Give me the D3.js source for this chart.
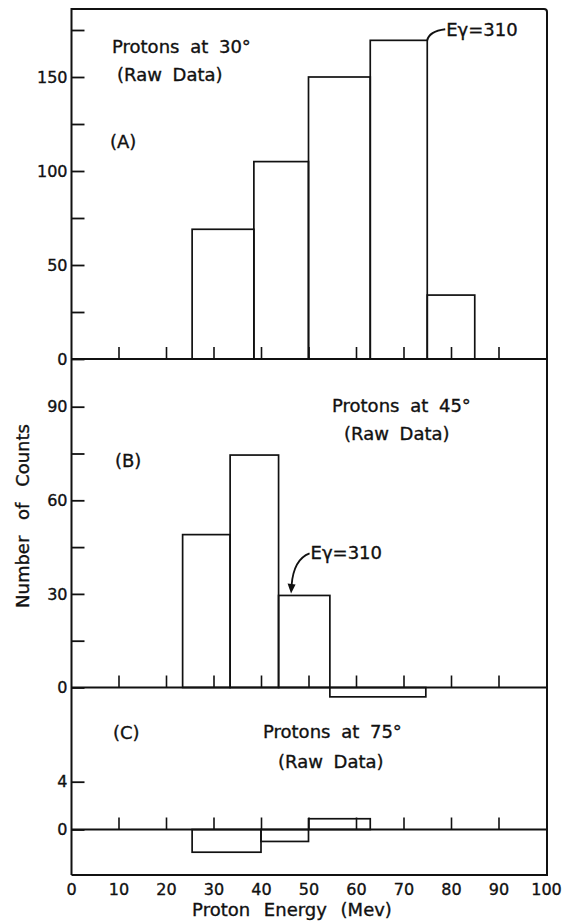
<!DOCTYPE html>
<html>
<head>
<meta charset="utf-8">
<script src="https://cdn.jsdelivr.net/npm/d3@7"></script>
<style>
  html, body { margin: 0; padding: 0; background: #fff; }
  svg { display: block; }
  text { font-family: "DejaVu Sans", sans-serif; fill: #111; stroke: #111; stroke-width: 0.35px; }
</style>
</head>
<body>
<svg id="chart" width="566" height="921"></svg>
<script>
// Histogram bin edges (MeV) and raw counts for each detector angle
const edgesA = [25.5, 38.5, 50, 63, 75, 85];
const countsA = [69, 105, 150, 169.5, 34];
const edgesB = [23.5, 33.5, 43.7, 54.5, 74.7];
const countsB = [49, 74.5, 29.5, -3];
const edgesC = [25.5, 40, 50, 63];
const countsC = [-1.9, -1, 0.9];

// Axis ticks
const energyTicks = [0, 10, 20, 30, 40, 50, 60, 70, 80, 90, 100];
const innerEnergyTicks = [10, 20, 30, 40, 50, 60, 70, 80, 90];
const ticksA = [0, 25, 50, 75, 100, 125, 150, 175];
const labelsA = [0, 50, 100, 150];
const ticksB = [0, 15, 30, 45, 60, 75, 90];
const labelsB = [0, 30, 60, 90];
const ticksC = [0, 4];
const labelsC = [0, 4];

// Panel captions
const titlesA = ["Protons at 30°", "(Raw Data)", "(A)"];
const titlesB = ["Protons at 45°", "(Raw Data)", "(B)"];
const titlesC = ["Protons at 75°", "(Raw Data)", "(C)"];
const markLabel = "Eγ=310";

const svg = d3.select("#chart");
const frame = { left: 71.5, right: 547, top: 9, bottom: 875 };

const x = d3.scaleLinear().domain([0, 100]).range([71, 546]);

const panels = [
  { edges: edgesA, counts: countsA, ticks: ticksA, labels: labelsA,
    y: d3.scaleLinear().domain([0, 175]).range([359, 30]) },
  { edges: edgesB, counts: countsB, ticks: ticksB, labels: labelsB,
    y: d3.scaleLinear().domain([0, 90]).range([687.5, 406.7]) },
  { edges: edgesC, counts: countsC, ticks: ticksC, labels: labelsC,
    y: d3.scaleLinear().domain([0, 4]).range([829.5, 781.7]) }
];

const ink = "#111";
const fontFamily = '"DejaVu Sans", sans-serif';

// Outer frame: top, right, bottom and the left count axis
svg.append("path")
  .attr("d", `M${frame.left},${frame.bottom} L${frame.left},${frame.top} L${frame.right - 3},${frame.top} Q${frame.right},${frame.top} ${frame.right},${frame.top + 3} L${frame.right},${frame.bottom} L${frame.left},${frame.bottom}`)
  .attr("fill", "none").attr("stroke", ink).attr("stroke-width", 2);

panels.forEach(p => {
  const y0 = p.y(0);

  // Zero line across the full width
  svg.append("line")
    .attr("x1", frame.left).attr("x2", frame.right)
    .attr("y1", y0).attr("y2", y0)
    .attr("stroke", ink).attr("stroke-width", 2);

  // Histogram bins drawn as outlines from the zero line
  svg.append("g").selectAll("rect")
    .data(p.counts)
    .join("rect")
      .attr("x", (d, i) => x(p.edges[i]))
      .attr("width", (d, i) => x(p.edges[i + 1]) - x(p.edges[i]))
      .attr("y", d => Math.min(p.y(d), y0))
      .attr("height", d => Math.abs(p.y(d) - y0))
      .attr("fill", "none")
      .attr("stroke", ink)
      .attr("stroke-width", 1.7);

  // Count axis: ticks pointing inward, labels outside
  const ya = svg.append("g")
    .attr("transform", `translate(${frame.left},0)`)
    .call(d3.axisLeft(p.y)
      .tickValues(p.ticks)
      .tickSizeInner(-13).tickSizeOuter(0).tickPadding(4)
      .tickFormat(d => p.labels.includes(d) ? d : ""));
  ya.select(".domain").remove();
  ya.selectAll("line").attr("stroke", ink).attr("stroke-width", 1.8);
  ya.selectAll("text").attr("font-size", 16).attr("font-family", fontFamily).attr("fill", ink);

  // Energy ticks rising from the zero line
  const xa = svg.append("g")
    .attr("transform", `translate(0,${y0})`)
    .call(d3.axisTop(x).tickValues(innerEnergyTicks).tickSize(12).tickFormat(""));
  xa.select(".domain").remove();
  xa.selectAll("line").attr("stroke", ink).attr("stroke-width", 1.6);
});

// Energy labels under the bottom frame
const xb = svg.append("g")
  .attr("transform", `translate(0,${frame.bottom})`)
  .call(d3.axisBottom(x).tickValues(energyTicks).tickSize(0).tickPadding(9));
xb.select(".domain").remove();
xb.selectAll("text").attr("font-size", 16).attr("font-family", fontFamily).attr("fill", ink);

// Axis titles
svg.append("text")
  .attr("transform", "translate(29,516) rotate(-90)")
  .attr("text-anchor", "middle")
  .attr("font-size", 18).attr("word-spacing", 10)
  .text("Number of Counts");

svg.append("text")
  .attr("x", 292).attr("y", 916)
  .attr("text-anchor", "middle")
  .attr("font-size", 18).attr("word-spacing", 8)
  .text("Proton Energy (Mev)");

// Panel captions
function caption(txt, xPos, yPos) {
  svg.append("text")
    .attr("x", xPos).attr("y", yPos)
    .attr("font-size", 18).attr("word-spacing", 5)
    .text(txt);
}
caption(titlesA[0], 112, 53);
caption(titlesA[1], 117, 81);
caption(titlesA[2], 110, 148);
caption(titlesB[0], 332, 412);
caption(titlesB[1], 344, 440);
caption(titlesB[2], 115, 467);
caption(titlesC[0], 263, 738);
caption(titlesC[1], 278, 768);
caption(titlesC[2], 113, 739);

// Eγ = 310 MeV markers
const topA = panels[0].y(countsA[3]);
const cornerA = x(edgesA[4]);
svg.append("path")
  .attr("d", `M${cornerA},${topA} Q${cornerA + 2},${topA - 9} ${cornerA + 18},${topA - 11}`)
  .attr("fill", "none").attr("stroke", ink).attr("stroke-width", 2);
svg.append("text")
  .attr("x", cornerA + 19).attr("y", topA - 4)
  .attr("font-size", 18)
  .text(markLabel);

const topB = panels[1].y(countsB[2]);
const tipX = x(edgesB[2]) + 13;
svg.append("path")
  .attr("d", `M${tipX + 18},${topB - 42} Q${tipX + 2},${topB - 36} ${tipX},${topB - 10}`)
  .attr("fill", "none").attr("stroke", ink).attr("stroke-width", 1.8);
svg.append("path")
  .attr("d", `M${tipX - 4},${topB - 12} L${tipX + 4},${topB - 11} L${tipX - 0.5},${topB - 2} Z`)
  .attr("fill", ink);
svg.append("text")
  .attr("x", tipX + 19).attr("y", topB - 36)
  .attr("font-size", 18)
  .text(markLabel);
</script>
</body>
</html>
